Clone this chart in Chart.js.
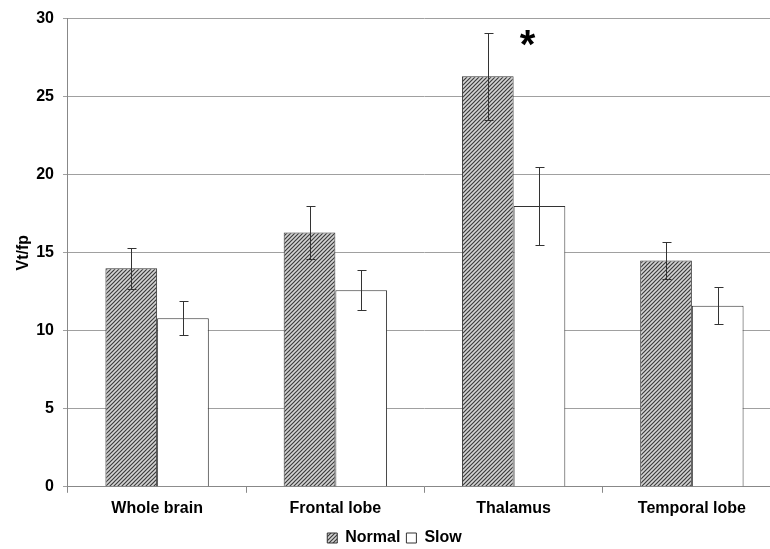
<!DOCTYPE html>
<html>
<head>
<meta charset="utf-8">
<script src="https://cdn.jsdelivr.net/npm/chart.js@4"></script>
<style>
  html, body { margin: 0; padding: 0; background: #fff; overflow: hidden; }
  #wrap { width: 770px; height: 549px; overflow: hidden; }
  #chart { display: block; }
</style>
</head>
<body>
<div id="wrap"><canvas id="chart" width="781" height="556"></canvas></div>
<script>
const categories = ["Whole brain", "Frontal lobe", "Thalamus", "Temporal lobe"];
const normalValues = [14.0, 16.3, 26.3, 14.5];
const normalErrors = [1.3, 1.7, 2.8, 1.2];
const slowValues = [10.8, 12.6, 18.0, 11.6];
const slowErrors = [1.1, 1.3, 2.5, 1.2];
const yTicks = [0, 5, 10, 15, 20, 25, 30];
const starCategory = "Thalamus";

const font = "'Liberation Sans', Arial, sans-serif";

function makeHatch() {
    const c = document.createElement("canvas");
    c.width = 4;
    c.height = 4;
    const g = c.getContext("2d");
    g.fillStyle = "#d4d4d4";
    g.fillRect(0, 0, 4, 4);
    g.strokeStyle = "#3c3c3c";
    g.lineWidth = 1.2;
    g.beginPath();
    g.moveTo(0, 4); g.lineTo(4, 0);
    g.moveTo(-1, 1); g.lineTo(1, -1);
    g.moveTo(3, 5); g.lineTo(5, 3);
    g.stroke();
    return g.createPattern(c, "repeat");
}

const ctx = document.querySelector("#chart").getContext("2d");
const hatch = makeHatch();

const errorBars = {
    id: "errorBars",
    afterDatasetsDraw(chart) {
        const c = chart.ctx;
        const y = chart.scales.y;
        const errs = [normalErrors, slowErrors];
        c.save();
        c.strokeStyle = "#333";
        c.lineWidth = 1;
        chart.data.datasets.forEach((ds, di) => {
            chart.getDatasetMeta(di).data.forEach((bar, i) => {
                const x = Math.round(bar.x) + 0.5;
                const top = Math.round(y.getPixelForValue(ds.data[i] + errs[di][i])) + 0.5;
                const bot = Math.round(y.getPixelForValue(ds.data[i] - errs[di][i])) + 0.5;
                c.beginPath();
                c.moveTo(x, top); c.lineTo(x, bot);
                c.moveTo(x - 4, top); c.lineTo(x + 5, top);
                c.moveTo(x - 4, bot); c.lineTo(x + 5, bot);
                c.stroke();
            });
        });
        // significance star
        const i = categories.indexOf(starCategory);
        const sx = chart.scales.x.getPixelForValue(i) + 14;
        const sy = y.getPixelForValue(normalValues[i] + normalErrors[i] + 0.35);
        c.fillStyle = "#000";
        c.font = "bold 40px " + font;
        c.textAlign = "center";
        c.textBaseline = "top";
        c.fillText("*", sx, sy);
        c.restore();
    }
};

new Chart(ctx, {
    type: "bar",
    data: {
        labels: categories,
        datasets: [
            {
                label: "Normal",
                data: normalValues,
                backgroundColor: hatch,
                borderColor: "#333",
                borderWidth: 1
            },
            {
                label: "Slow",
                data: slowValues,
                backgroundColor: "#fff",
                borderColor: "#333",
                borderWidth: 1
            }
        ]
    },
    options: {
        responsive: false,
        animation: false,
        categoryPercentage: 0.58,
        barPercentage: 1,
        layout: { padding: { top: 7, left: 8, right: 0, bottom: 0 } },
        plugins: {
            legend: {
                position: "bottom",
                labels: {
                    boxWidth: 10,
                    boxHeight: 10,
                    padding: 6,
                    color: "#000",
                    font: { family: font, size: 16, weight: "bold" }
                }
            },
            tooltip: { enabled: false }
        },
        scales: {
            x: {
                grid: {
                    display: true,
                    drawOnChartArea: false,
                    offset: true,
                    tickLength: 6,
                    color: "#888"
                },
                border: { color: "#888" },
                ticks: {
                    color: "#000",
                    padding: 6,
                    font: { family: font, size: 16, weight: "bold" }
                }
            },
            y: {
                min: 0,
                max: 30,
                afterBuildTicks: axis => { axis.ticks = yTicks.map(v => ({ value: v })); },
                grid: { color: "#a0a0a0", tickLength: 5 },
                border: { color: "#888" },
                ticks: {
                    color: "#000",
                    padding: 9,
                    font: { family: font, size: 16, weight: "bold" }
                },
                title: {
                    display: true,
                    text: "Vt/fp",
                    color: "#000",
                    padding: { top: 6, bottom: -6 },
                    font: { family: font, size: 16, weight: "bold" }
                }
            }
        }
    },
    plugins: [errorBars]
});
</script>
</body>
</html>
